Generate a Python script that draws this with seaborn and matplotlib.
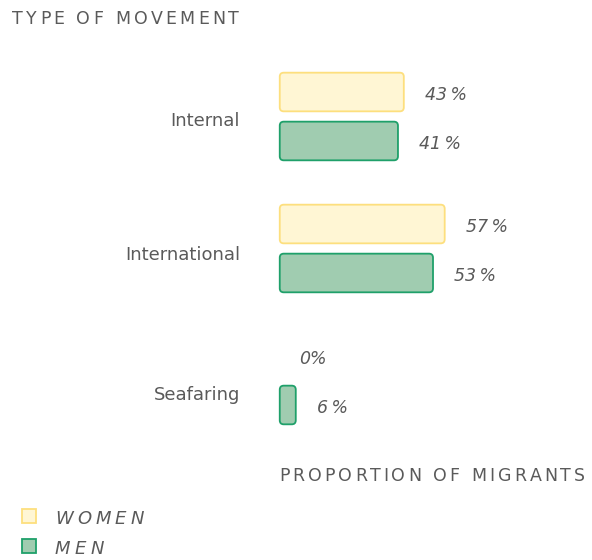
"""
Type of movement by sex: proportion of migrants, horizontal bars.
"""
import matplotlib
matplotlib.use("Agg")
import matplotlib.pyplot as plt
from matplotlib.patches import FancyBboxPatch
from matplotlib.transforms import IdentityTransform, ScaledTranslation
from matplotlib.font_manager import FontProperties
from matplotlib.lines import Line2D
import seaborn as sns
import pandas as pd

CATEGORIES = ["Internal", "International", "Seafaring"]
WOMEN = [43, 57, 0]
MEN = [41, 53, 6]
SEXES = ["WOMEN", "MEN"]

FILL = {"WOMEN": "#FFF6D4", "MEN": "#A0CCB0"}
EDGE = {"WOMEN": "#FDDF7E", "MEN": "#1FA06A"}
TEXT = "#5a5a5a"
FONT = "DejaVu Sans"

df = pd.DataFrame({
    "movement": CATEGORIES * 2,
    "sex": ["WOMEN"] * 3 + ["MEN"] * 3,
    "value": WOMEN + MEN,
})

sns.set_theme(style="white")
plt.rcParams["font.family"] = [FONT]

W, H = 592, 560
fig = plt.figure(figsize=(W / 100, H / 100), dpi=100)
renderer = fig.canvas.get_renderer()


def px(x, y):
    """pixel (from top-left) -> figure fraction"""
    return x / W, 1 - y / H


def spaced_text(x, y, s, track, prop, **kw):
    """draw text with extra letter spacing (track, px); y is the baseline"""
    wx = renderer.get_text_width_height_descent("x", prop, ismath=False)[0]
    for i, ch in enumerate(s):
        off = 0.0
        if i:
            off = renderer.get_text_width_height_descent(
                s[:i] + "x", prop, ismath=False)[0] - wx
        fig.text(*px(x + off + i * track, y), ch, fontproperties=prop,
                 va="baseline", ha="left", color=TEXT, **kw)


# axes: x 0..100 over 292 px, category step 132 px, first at y=116.5
ax_top, ax_bot = 50, 450
ax = fig.add_axes([279 / W, 1 - ax_bot / H, 292 / W, (ax_bot - ax_top) / H])

sns.barplot(data=df, y="movement", x="value", hue="sex", hue_order=SEXES,
            order=CATEGORIES, orient="h", width=0.742, gap=0.18,
            palette=FILL, legend=False, ax=ax)
ax.set_xlim(0, 100)
step, first = 132.0, 116.5
ax.set_ylim((ax_bot - first) / step, (ax_top - first) / step)

# swap plain rectangles for rounded ones (in pixel space)
fig.canvas.draw()
for i, p in enumerate(list(ax.patches)):
    sex = SEXES[i // len(CATEGORIES)]
    val = df["value"].iloc[i]
    x0, y0 = p.get_x(), p.get_y()
    w, h = p.get_width(), p.get_height()
    (px0, py0) = ax.transData.transform((x0, y0))
    (px1, py1) = ax.transData.transform((x0 + w, y0 + h))
    left, right = min(px0, px1), max(px0, px1)
    bot, top = min(py0, py1), max(py0, py1)
    p.set_visible(False)
    if val > 0:
        fig.patches.append(FancyBboxPatch(
            (left + 0.75, bot + 0.75), right - left - 1.5, top - bot - 1.5,
            boxstyle="round,pad=0,rounding_size=4",
            facecolor=FILL[sex], edgecolor=EDGE[sex], linewidth=1.3,
            transform=IdentityTransform(), figure=fig))
    lab = f"{val}%" if val == 0 else f"{val}\u2009%"
    ax.annotate(lab, (x0 + w, y0 + h / 2), xytext=(14.5, -5.5),
                textcoords="offset points", va="baseline", ha="left",
                fontsize=12.5, style="italic", color=TEXT)

ax.set_xlabel("")
ax.set_ylabel("")
ax.set_xticks([])
ax.tick_params(axis="y", length=0, pad=28, labelsize=13, labelcolor=TEXT)
# small per-label vertical nudges, in pixels
for lbl, dy in zip(ax.get_yticklabels(), [2.0, 4.0, 12.0]):
    lbl.set_transform(lbl.get_transform()
                      + ScaledTranslation(0, -dy / 100, fig.dpi_scale_trans))
sns.despine(ax=ax, left=True, bottom=True)

caps = FontProperties(family=FONT, size=12.5)
spaced_text(12, 23.5, "TYPE OF MOVEMENT", 3.2, caps)
spaced_text(279, 481, "PROPORTION OF MIGRANTS", 3.1, caps)

# legend
leg_prop = FontProperties(family=FONT, size=13, style="italic")
for sex, yc in zip(SEXES, [516, 546]):
    fig.add_artist(Line2D([29 / W], [1 - yc / H], transform=fig.transFigure,
                          linestyle="none", marker="s", markersize=9.5,
                          markerfacecolor=FILL[sex], markeredgecolor=EDGE[sex],
                          markeredgewidth=1.3))
    spaced_text(55, yc + 8.5, sex, 4.2, leg_prop)

fig.savefig("out.png", dpi=100)
